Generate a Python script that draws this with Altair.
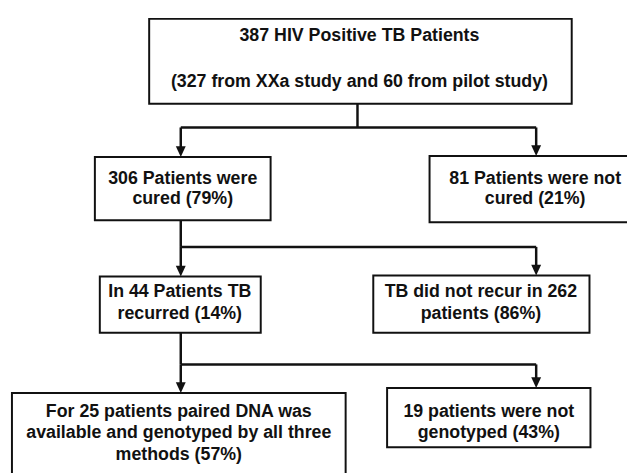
import altair as alt
import pandas as pd

# ---- content ----
box_lines = [
    ["387 HIV Positive TB Patients", "", "(327 from XXa study and 60 from pilot study)"],
    ["306 Patients were", "cured (79%)"],
    ["81 Patients were not", "cured (21%)"],
    ["In 44 Patients TB", "recurred (14%)"],
    ["TB did not recur in 262", "patients (86%)"],
    ["For 25 patients paired DNA was", "available and genotyped by all three", "methods (57%)"],
    ["19 patients were not", "genotyped (43%)"],
]

# ---- layout (page pixels) ----
box_x0 = [151, 96, 435, 101, 378, 12, 392]
box_x1 = [579, 274, 655, 264, 597, 350, 598]
box_y0 = [16, 156, 155, 277, 276, 395, 390]
box_y1 = [102, 220, 222, 334, 334, 485, 450]
text_cx = [364, 185, 542, 182, 487, 181, 495]
text_cy = [56.5, 188.5, 188.5, 304, 304, 436, 425]
line_h = [23.5, 21, 21, 22, 22, 22, 22]

# connector segments: (x1, y1, x2, y2)
seg_x1 = [362, 183, 183, 543, 183, 183, 183, 543, 183, 183, 183, 543]
seg_y1 = [102, 126, 126, 126, 220, 247, 247, 247, 334, 366, 366, 366]
seg_x2 = [362, 543, 183, 543, 183, 543, 183, 543, 183, 543, 183, 543]
seg_y2 = [126, 126, 146, 146, 247, 247, 268, 268, 366, 366, 386, 381]
# arrow tips
tip_x = [183, 543, 183, 543, 183, 543]
tip_y = [156, 155, 277, 276, 395, 390]

boxes = pd.DataFrame({"x0": box_x0, "x1": box_x1, "y0": box_y0, "y1": box_y1})
segs = pd.DataFrame({"x1": seg_x1, "y1": seg_y1, "x2": seg_x2, "y2": seg_y2})
tips = pd.DataFrame({"x": tip_x, "y": tip_y})

rows = []
for i, lines in enumerate(box_lines):
    n = len(lines)
    for j, t in enumerate(lines):
        if t:
            rows.append({"x": text_cx[i], "y": text_cy[i] + (j - (n - 1) / 2) * line_h[i], "t": t})
texts = pd.DataFrame(rows)

xs = alt.Scale(domain=[8, 635], nice=False, zero=False)
ys = alt.Scale(domain=[8, 473], nice=False, zero=False, reverse=True)
ink = "#111111"

rect = alt.Chart(boxes).mark_rect(fill="white", stroke=ink, strokeWidth=2).encode(
    x=alt.X("x0:Q", scale=xs, axis=None), x2="x1:Q",
    y=alt.Y("y0:Q", scale=ys, axis=None), y2="y1:Q",
)
lines = alt.Chart(segs).mark_rule(color=ink, strokeWidth=2.5).encode(
    x=alt.X("x1:Q", scale=xs, axis=None), x2="x2:Q",
    y=alt.Y("y1:Q", scale=ys, axis=None), y2="y2:Q",
)
arrows = alt.Chart(tips).mark_point(
    shape="M-1,-2.2L1,-2.2L0,0Z", filled=True, color=ink, opacity=1, size=100, strokeWidth=0
).encode(
    x=alt.X("x:Q", scale=xs, axis=None),
    y=alt.Y("y:Q", scale=ys, axis=None),
)
label = alt.Chart(texts).mark_text(
    font="Liberation Sans", fontWeight="bold", fontSize=18, color=ink,
    align="center", baseline="middle",
).encode(
    x=alt.X("x:Q", scale=xs, axis=None),
    y=alt.Y("y:Q", scale=ys, axis=None),
    text="t:N",
)

chart = alt.layer(lines, rect, arrows, label).properties(
    width=627, height=465, padding=0, autosize=alt.AutoSizeParams(type="none"), background="white"
).configure_view(stroke=None)

chart.save("out.html", embed_options={"renderer": "svg", "actions": False})
